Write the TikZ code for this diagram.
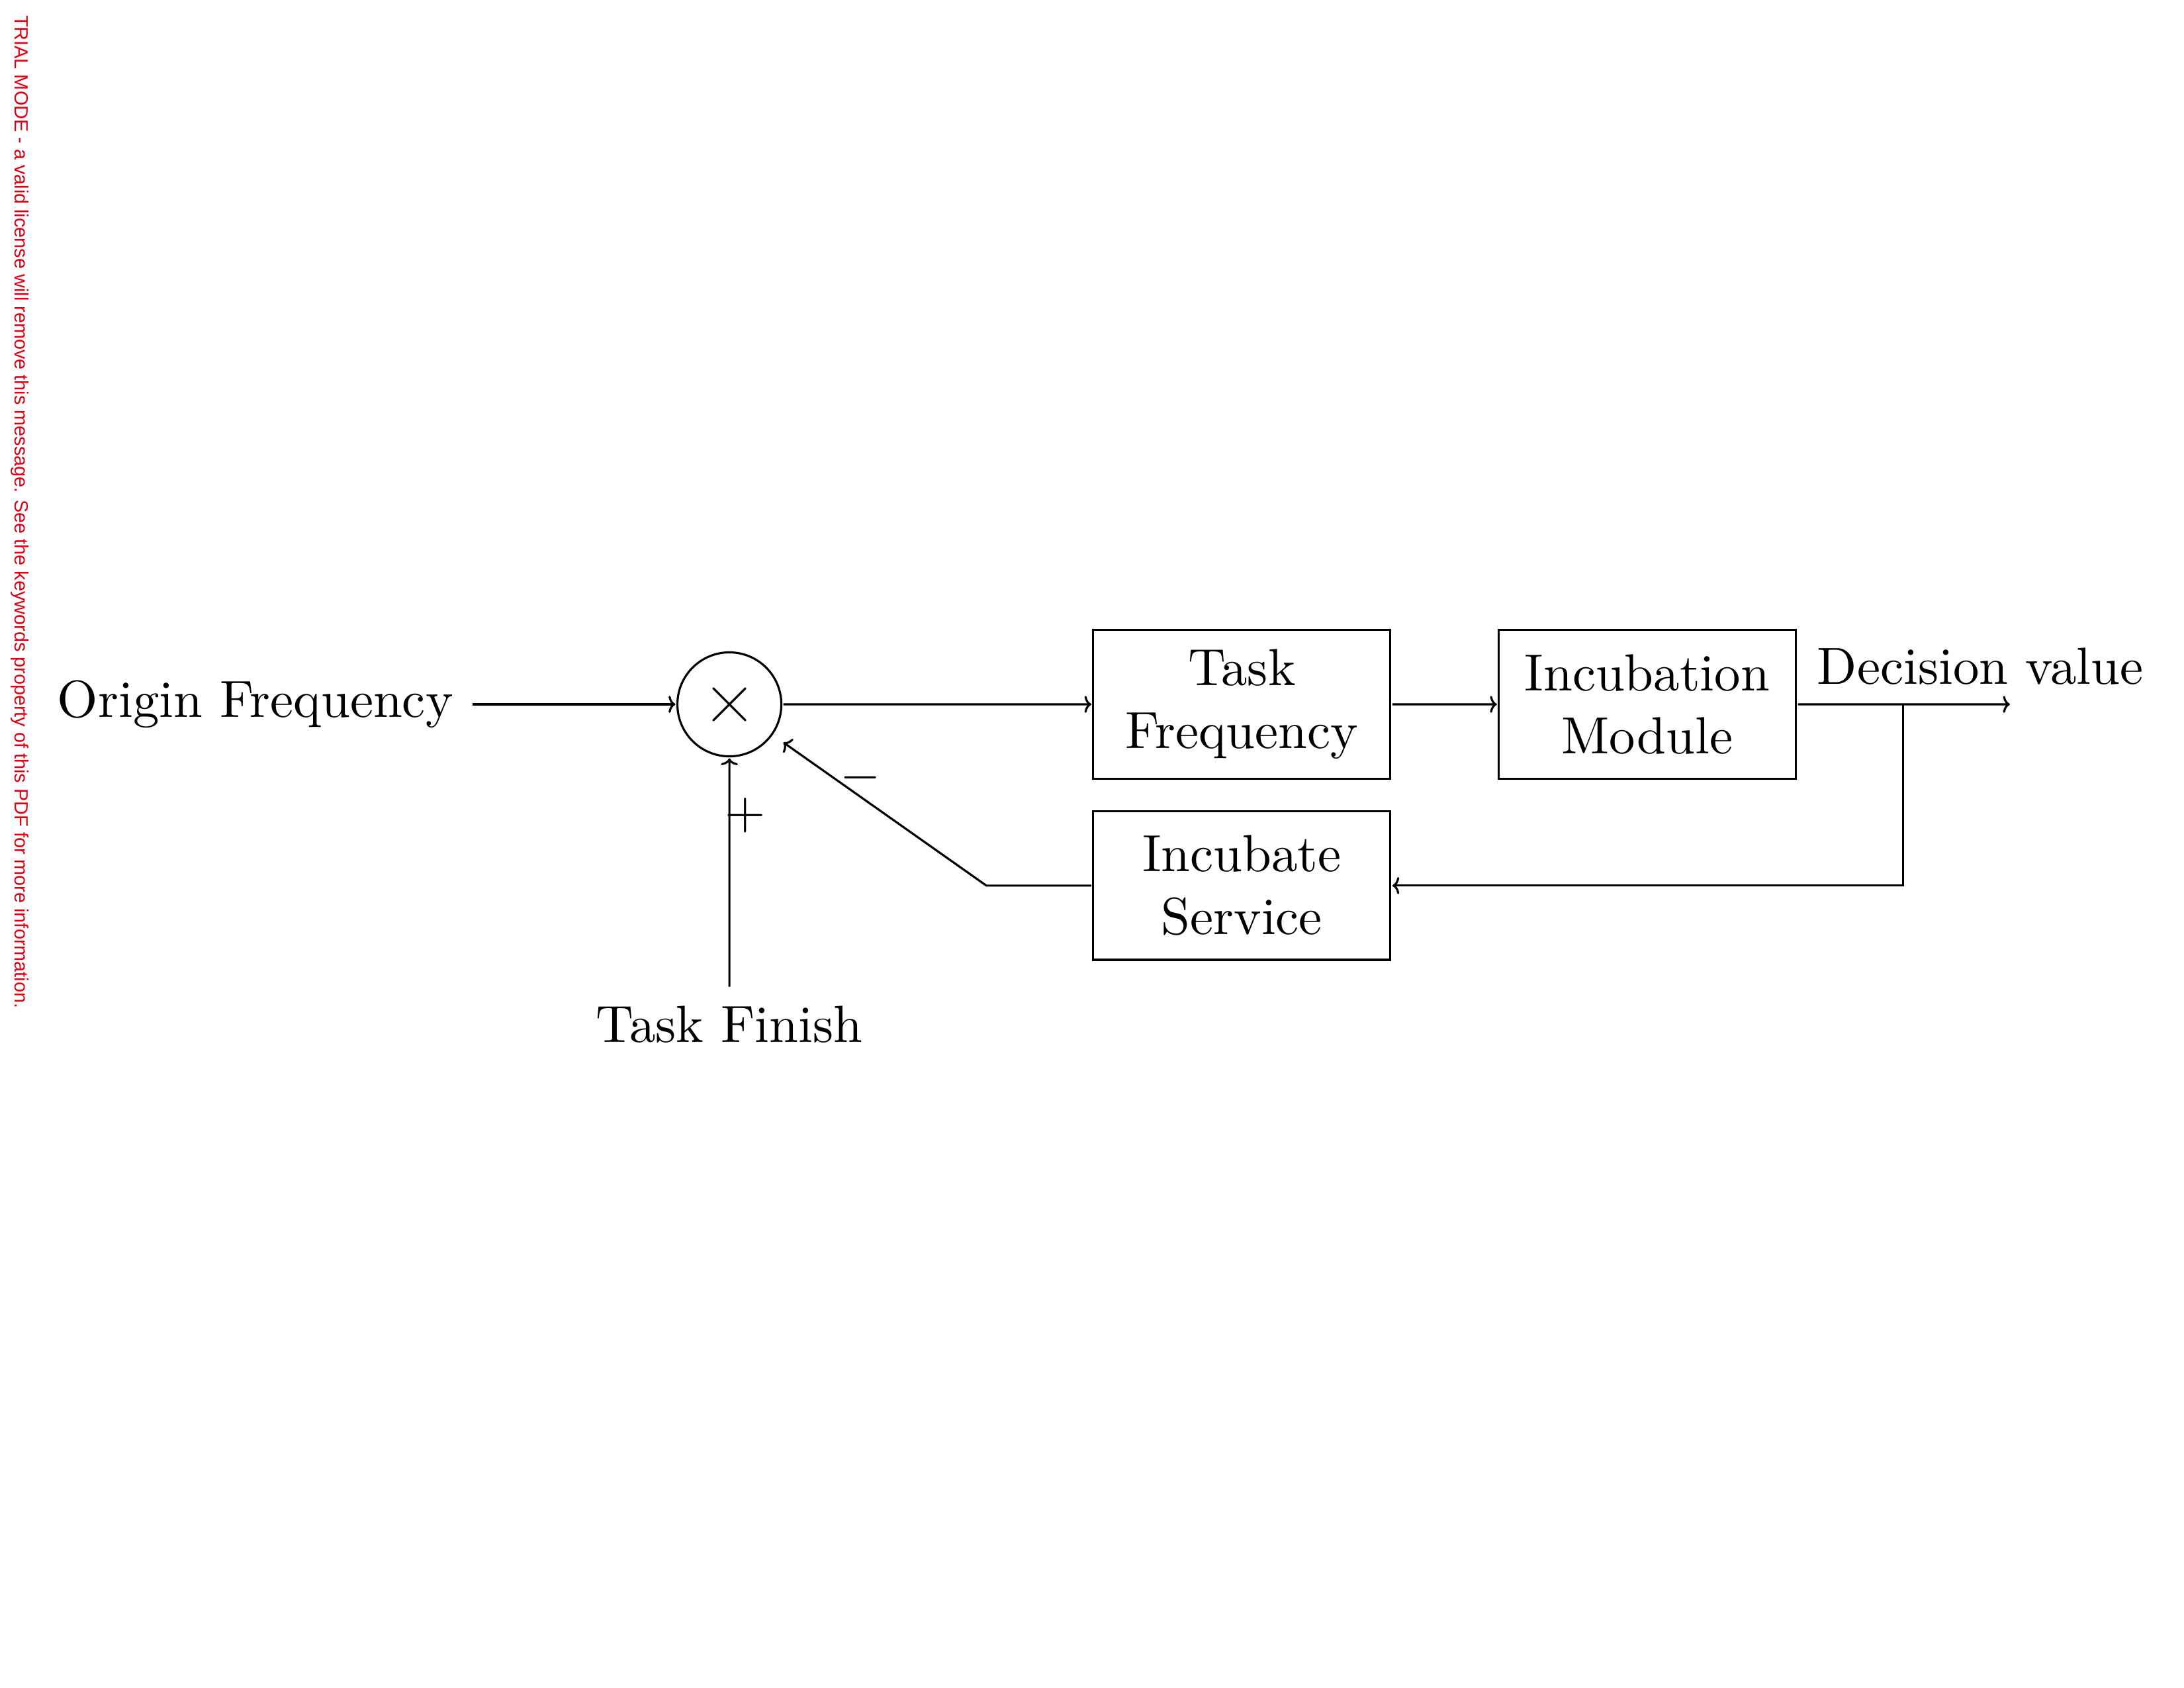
\documentclass[tikz,border=0pt]{standalone}
\usepackage{fontspec}
\newfontfamily\trialfont{Liberation Sans}
\usetikzlibrary{positioning,arrows.meta}
\definecolor{trialred}{HTML}{DF0015}

\begin{document}
\begin{tikzpicture}

\tikzset{>={Computer Modern Rightarrow[length=2.5pt,width=6.2pt]}}
\tikzset{block/.style={draw,rectangle,minimum width=2cm,minimum height=1cm,align=center}}

\useasboundingbox (0,0) rectangle (27.94,21.59);

\node[rotate=-90,anchor=west,inner sep=0pt,text=trialred,font=\trialfont\fontsize{6.95}{8}\selectfont] (trial) at (0.25,21.40) {TRIAL MODE - a valid license will remove this message. See the keywords property of this PDF for more information.};

\begin{scope}[shift={(9.331,12.581)},scale=1.9,every node/.append style={transform shape},line width=0.76pt]

\node[draw,circle,minimum size=0.7cm,inner sep=0pt] (sum) at (0,0) {};
\draw[line cap=round] (sum.center) +(-0.108,-0.108) -- +(0.108,0.108)
                      (sum.center) +(-0.108,0.108) -- +(0.108,-0.108);
\node[anchor=east] (ofreq) at (-1.73,0) {Origin Frequency};
\node[anchor=north] (tfin) at (0,-1.9) {Task Finish};
\node[block] (tfreq) at (3.45,0) {Task\\Frequency};
\node[block] (incm) at (6.18,0) {Incubation\\Module};
\node[block] (incs) at (3.45,-1.22) {Incubate\\Service};
\coordinate (out) at (8.62,0);
\coordinate (branch) at (7.9,0);
\coordinate (bend) at (1.73,-1.22);

\draw[->] (ofreq) -- (sum);
\draw[->] (sum) -- (tfreq);
\draw[->] (tfreq) -- (incm);
\draw[->] (incm) -- (out) node[pos=0,above right] {Decision value};
\draw[->] (branch) |- (incs);
\draw[->] (tfin) -- node[near end,xshift=3pt] {$+$} (sum);
\draw[->,shorten >=4.4pt] (incs) -- (bend) -- node[pos=0.59,above,inner sep=0pt] {$-$} (sum);
\end{scope}
\end{tikzpicture}
\end{document}
